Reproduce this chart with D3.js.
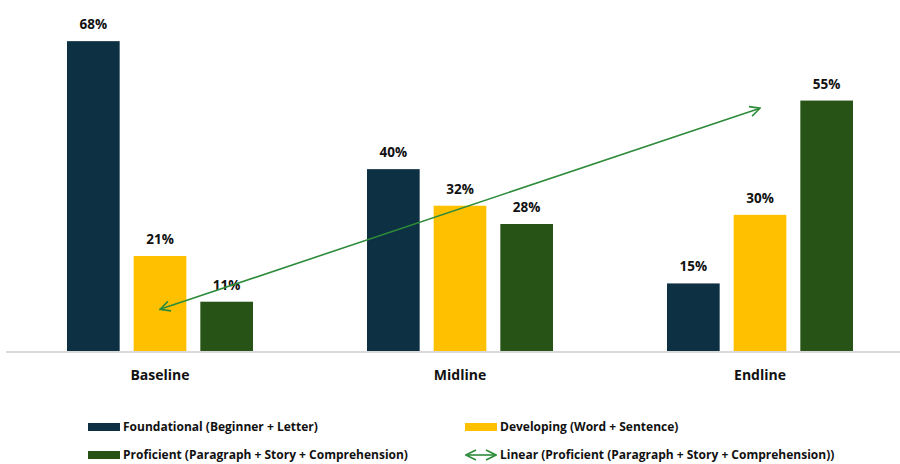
<!DOCTYPE html>
<html>
<head>
<meta charset="utf-8">
<script src="https://cdn.jsdelivr.net/npm/d3@7"></script>
<style>
  html, body { margin: 0; padding: 0; background: #fff; }
  svg { display: block; font-family: "Open Sans", Roboto, sans-serif; }
</style>
</head>
<body>
<svg id="chart" width="900" height="464"></svg>
<script>
// Reading levels across assessment rounds
const categories = ["Baseline", "Midline", "Endline"];
const seriesNames = [
  "Foundational (Beginner + Letter)",
  "Developing (Word + Sentence)",
  "Proficient (Paragraph + Story + Comprehension)"
];
const foundational = [0.68, 0.40, 0.15];
const developing   = [0.21, 0.32, 0.30];
const proficient   = [0.11, 0.28, 0.55];
const trendName = "Linear (Proficient (Paragraph + Story + Comprehension))";

const colors = ["#0d3043", "#ffc000", "#275317"];
const trendColor = "#2e8b3a";

const svg = d3.select("#chart");
const W = 900;

const series = seriesNames.map((name, i) => ({
  name, color: colors[i], values: [foundational, developing, proficient][i]
}));

const x0 = d3.scaleBand().domain(categories).range([10, 910]).paddingInner(0).paddingOuter(0);
const x1 = d3.scaleBand().domain(seriesNames).range([x0.bandwidth() / 2 - 93, x0.bandwidth() / 2 + 93])
  .paddingInner(0.21).paddingOuter(0);
const y = d3.scaleLinear().domain([0, 0.7]).range([352, 32]);

// Bars
const groups = svg.append("g").selectAll("g")
  .data(categories)
  .join("g")
  .attr("transform", d => `translate(${x0(d)},0)`);

groups.selectAll("rect")
  .data((c, ci) => series.map(s => ({ s, v: s.values[ci] })))
  .join("rect")
  .attr("x", d => x1(d.s.name))
  .attr("width", x1.bandwidth())
  .attr("y", d => y(d.v))
  .attr("height", d => y(0) - y(d.v))
  .attr("fill", d => d.s.color);

groups.selectAll("text.val")
  .data((c, ci) => series.map(s => ({ s, v: s.values[ci] })))
  .join("text")
  .attr("class", "val")
  .attr("x", d => x1(d.s.name) + x1.bandwidth() / 2)
  .attr("y", d => y(d.v) - 12)
  .attr("text-anchor", "middle")
  .attr("font-size", 13.5)
  .attr("font-weight", 700)
  .attr("fill", "#111")
  .text(d => d3.format(".0%")(d.v));

// Category axis
const xAxis = svg.append("g")
  .attr("transform", `translate(0,${y(0)})`)
  .call(d3.axisBottom(x0).tickSize(0).tickPadding(18));
xAxis.select(".domain").attr("stroke", "#d9d9d9").attr("stroke-width", 2)
  .attr("d", `M6,0H${W}`);
xAxis.selectAll("text")
  .attr("font-size", 14)
  .attr("font-weight", 700)
  .attr("font-family", "'Open Sans', Roboto, sans-serif")
  .attr("fill", "#111");

// Least-squares trendline of the proficient series
const xs = categories.map((c, i) => i + 1);
const mx = d3.mean(xs), my = d3.mean(proficient);
const slope = d3.sum(xs, (xv, i) => (xv - mx) * (proficient[i] - my)) / d3.sum(xs, xv => (xv - mx) ** 2);
const intercept = my - slope * mx;
const trendPts = [0, categories.length - 1].map(i => ({
  x: x0(categories[i]) + x0.bandwidth() / 2,
  y: y(intercept + slope * xs[i])
}));

const defs = svg.append("defs");
["start", "end"].forEach(k => {
  defs.append("marker")
    .attr("id", "arrow-" + k)
    .attr("viewBox", "0 0 12 12")
    .attr("refX", k === "end" ? 11 : 1)
    .attr("refY", 6)
    .attr("markerWidth", 12)
    .attr("markerHeight", 12)
    .attr("markerUnits", "userSpaceOnUse")
    .attr("orient", "auto")
    .append("path")
    .attr("d", k === "end" ? "M1,1L11,6L1,11" : "M11,1L1,6L11,11")
    .attr("fill", "none")
    .attr("stroke", trendColor)
    .attr("stroke-width", 1.6);
});

svg.append("line")
  .attr("x1", trendPts[0].x).attr("y1", trendPts[0].y)
  .attr("x2", trendPts[1].x).attr("y2", trendPts[1].y)
  .attr("stroke", trendColor)
  .attr("stroke-width", 1.6)
  .attr("marker-start", "url(#arrow-start)")
  .attr("marker-end", "url(#arrow-end)");

// Legend
const legendItems = [
  { name: seriesNames[0], color: colors[0], type: "bar", x: 88, y: 427 },
  { name: seriesNames[1], color: colors[1], type: "bar", x: 465, y: 427 },
  { name: seriesNames[2], color: colors[2], type: "bar", x: 88, y: 455 },
  { name: trendName, color: trendColor, type: "arrow", x: 465, y: 455 }
];
const leg = svg.append("g").selectAll("g").data(legendItems).join("g")
  .attr("transform", d => `translate(${d.x},${d.y})`);

leg.filter(d => d.type === "bar").append("rect")
  .attr("x", 0).attr("y", -4).attr("width", 32).attr("height", 8)
  .attr("fill", d => d.color);

leg.filter(d => d.type === "arrow").append("line")
  .attr("x1", 1).attr("x2", 31).attr("y1", 0).attr("y2", 0)
  .attr("stroke", d => d.color).attr("stroke-width", 1.6)
  .attr("marker-start", "url(#arrow-start)")
  .attr("marker-end", "url(#arrow-end)");

leg.append("text")
  .attr("x", 35).attr("y", 0).attr("dy", "0.35em")
  .attr("font-size", 12)
  .attr("font-weight", 700)
  .attr("fill", "#111")
  .text(d => d.name);
</script>
</body>
</html>
